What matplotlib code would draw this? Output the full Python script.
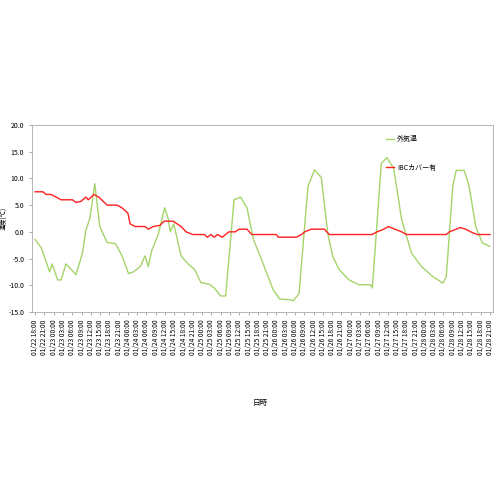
import matplotlib
matplotlib.use("Agg")
import matplotlib.pyplot as plt
from datetime import datetime, timedelta

plt.rcParams['font.family'] = ['Noto Sans CJK JP', 'DejaVu Sans']

# hours from 01/22 18:00
green_h = [0, 2, 4.7, 5.5, 7.3, 8.4, 10, 11.6, 13.2, 15.3, 16.4, 17.7, 19.3, 20.9, 23.3, 26, 28.1, 30.2,
           31.8, 34, 35.5, 36.6, 37.7, 39.8, 41.9, 43, 43.7, 44.8, 47.2, 49.4, 51.5, 53.6, 56.3, 57.9, 60,
           61.6, 64.3, 66.4, 68.5, 70.6, 72.8, 74.9, 77, 79.1, 82.3, 83.4, 85.3, 88.2, 90.3, 92.5, 94.6,
           96.2, 98.3, 101.5, 104.7, 108.4, 109, 111.9, 113.7, 115.9, 118.5, 121.7, 124.9, 128.6, 131.8,
           132.9, 135, 136.1, 138.7, 140.3, 142.4, 144.6, 147]
green_v = [-1.4, -3.0, -7.5, -6, -9, -9, -6, -7, -8, -4, 0.3, 2.5, 9, 1, -2, -2.2, -4.5, -7.8,
           -7.5, -6.5, -4.5, -6.5, -3.5, -0.5, 4.5, 2.5, 0, 1.5, -4.5, -6, -7, -9.5, -9.8, -10.5, -12,
           -12, 6, 6.5, 4.5, -1.5, -4.6, -7.8, -10.9, -12.6, -12.7, -12.9, -11.6, 8.5, 11.6, 10.2, -0.3,
           -4.6, -7.1, -9, -9.9, -9.9, -10.5, 12.8, 13.9, 11.9, 2.2, -4, -6.5, -8.4, -9.6,
           -8.4, 8.5, 11.5, 11.5, 8.5, 1, -2.1, -2.7]

red_h = [0, 2.5, 3.6, 5.2, 6.8, 8.4, 12.1, 13.2, 14.8, 16.4, 17.2, 19, 20.6, 23.3, 26.5, 28.1, 30, 30.7,
         32.3, 35.5, 36.6, 38.2, 40.3, 41.7, 44.6, 47.2, 48.8, 51, 54.7, 55.7, 56.8, 57.9, 58.9, 60.5,
         62.6, 64.7, 65.9, 68.5, 70, 78, 78.6, 84.5, 86.1, 87.1, 89.3, 93.5, 95.1, 108.9, 110.5, 112.7,
         114.2, 116.3, 118.5, 120, 132.9, 133.9, 136.1, 137.4, 139.2, 140.8, 142.9, 147]
red_v = [7.5, 7.5, 7, 7, 6.5, 6, 6, 5.5, 5.7, 6.5, 6, 7, 6.5, 5, 5, 4.5, 3.5, 1.5,
         1, 1, 0.5, 1, 1.2, 2, 2, 1, 0, -0.5, -0.5, -1, -0.5, -1, -0.5, -1,
         0, 0, 0.5, 0.5, -0.5, -0.5, -1, -1, -0.5, 0, 0.5, 0.5, -0.5, -0.5, 0, 0.5,
         1, 0.5, 0, -0.5, -0.5, 0, 0.5, 0.8, 0.5, 0, -0.5, -0.5]

start = datetime(2020, 1, 22, 18)
tick_h = list(range(0, 148, 3))
tick_labels = [(start + timedelta(hours=h)).strftime('%m/%d %H:%M') for h in tick_h]

fig = plt.figure(figsize=(5, 5), dpi=100)
ax = fig.add_axes([0.064, 0.376, 0.922, 0.374])
ax.plot(green_h, green_v, color='#a5d46a', lw=1.0, label='外気温')
ax.plot(red_h, red_v, color='#ff2020', lw=1.0, label='IBCカバー有')
ax.set_xlim(-1, 148)
ax.set_ylim(-15, 20)
ax.set_yticks(range(-15, 21, 5))
ax.set_yticklabels([f'{v:.1f}' for v in range(-15, 21, 5)], fontsize=5)
ax.set_xticks(tick_h)
ax.set_xticklabels(tick_labels, rotation=90, fontsize=4.8)
ax.tick_params(length=2, width=0.5, color='#888888')
for s in ax.spines.values():
    s.set_color('#aaaaaa'); s.set_linewidth(0.6)
ax.set_ylabel('温度(℃)', fontsize=4.5)
ax.yaxis.set_label_coords(-0.052, 0.5)
fig.text(0.52, 0.19, '日時', fontsize=5.5, ha='center')
leg = ax.legend(loc='upper right', bbox_to_anchor=(0.89, 0.98), frameon=False, fontsize=5,
                labelspacing=3, handlelength=1.2, handletextpad=0.4)
fig.savefig('out.png', dpi=100)
